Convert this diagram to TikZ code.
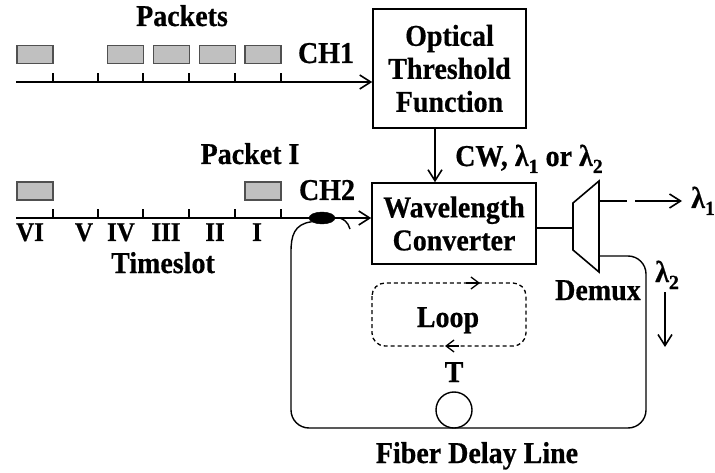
\documentclass[tikz,border=0pt]{standalone}
\usepackage{fontspec}
\setmainfont{Liberation Serif}[BoldFeatures={FakeBold=0.6}]
\usetikzlibrary{arrows.meta,shapes.geometric}
\definecolor{pktfill}{RGB}{192,192,192}
\definecolor{pktdraw}{RGB}{80,80,80}
\newcommand{\lsub}[1]{\raisebox{-7pt}{\fontsize{20}{20}\selectfont #1}}
\newcommand{\tall}[1]{\scalebox{1}[1.08]{#1}}
\tikzset{
  >={Straight Barb[length=11pt,width=14pt]},
  base/.style={line width=1.6pt},
  lbl/.style={font=\bfseries\fontsize{28}{33}\selectfont, inner sep=0pt, anchor=base},
  numlbl/.style={font=\bfseries\fontsize{25}{28}\selectfont, inner sep=0pt, anchor=base},
  blockbox/.style={draw, line width=1.6pt, align=center, inner sep=0pt,
    font=\bfseries\fontsize{28}{33}\selectfont},
  packet/.style={draw=pktdraw, fill=pktfill, line width=1.3pt, minimum width=36pt,
    minimum height=18pt, inner sep=0pt},
  tick/.style={line width=1.3pt},
  looparrow/.style={line width=1.3pt, -{Straight Barb[length=8pt,width=12pt]}}
}
\begin{document}
\begin{tikzpicture}[x=1pt,y=-1pt]
\useasboundingbox (0,0) rectangle (715,473);

% blocks
\node[blockbox, minimum width=153pt, minimum height=119pt] (otf) at (449.5,68.5) {\tall{Optical}\\\tall{Threshold}\\\tall{Function}};
\node[blockbox, minimum width=164pt, minimum height=81pt] (wc) at (454,223.5) {\tall{Wavelength}\\\tall{Converter}};

% demux trapezoid
\coordinate (dtl) at (573,203);
\coordinate (dtr) at (599,181);
\coordinate (dbr) at (599,272);
\coordinate (dbl) at (573,250);
\draw[base] (dtl) -- (dtr) -- (dbr) -- (dbl) -- cycle;
\coordinate (din) at (573,228);
\coordinate (dout1) at (599,201);
\coordinate (dout2) at (599,256);

% CH1 time line
\coordinate (l1s) at (16,82);
\draw[base,->] (l1s) -- (otf.west |- l1s);
\foreach \x in {53,98,143,189,235,281} \draw[tick] (\x,82) -- (\x,73);
\foreach \x/\n in {35/p1,125.5/p2,171.5/p3,217.5/p4,263/p5}
  \node[packet] (\n) at (\x,54.5) {};
\node[lbl] (packets) at (182,26) {\tall{Packets}};
\node[lbl] (ch1) at (326,63) {\tall{CH1}};

% CH2 time line
\coordinate (l2s) at (16,218);
\node[ellipse, fill=black, draw=black, minimum width=26pt, minimum height=12pt, inner sep=0pt] (cpl) at (322,218) {};
\draw[base,->] (l2s) -- (wc.west |- l2s);
\foreach \x in {53,98,143,189,235,281} \draw[tick] (\x,218) -- (\x,209);
\node[packet] (q1) at (35,191) {};
\node[packet] (q2) at (263,191) {};
\node[lbl] (pkti) at (250,164) {\tall{Packet I}};
\node[lbl] (ch2) at (327,200) {\tall{CH2}};
\foreach \x/\t in {30/VI,84/V,121/IV,166/III,215/II,257/I}
  \node[numlbl] at (\x,241) {\tall{\t}};
\node[lbl] (tslot) at (163,273) {\tall{Timeslot}};

% OTF -> WC
\coordinate (a1) at (435,128);
\draw[base,->] (a1) -- (a1 |- wc.north);
\node[lbl, anchor=base west] (cw) at (455,166) {\tall{CW, λ}\lsub{1} \tall{or λ}\lsub{2}};

% WC -> demux
\draw[base] (wc.east |- din) -- (din);

% demux output 1
\coordinate (g1) at (627,201);
\coordinate (g2) at (635,201);
\coordinate (tip1) at (682,201);
\draw[base] (dout1) -- (g1);
\draw[base,->] (g2) -- (tip1);
\node[lbl, anchor=base west] (lam1) at (691,208) {\tall{λ}\lsub{1}};

% fiber delay loop
\draw[line width=1.4pt] (cpl.200) .. controls (294,224) and (291,236) .. (291,252)
  [rounded corners=18pt] -- (291,428) -- (646,428) -- (646,256) -- (dout2);
\draw[line width=1.4pt] (cpl.east) .. controls (343,217) and (348,222) .. (350,229);
\node[draw, circle, line width=1.4pt, minimum size=36pt, inner sep=0pt, fill=white] (tdel) at (454,410) {};
\node[lbl] (tlbl) at (454,382) {\tall{T}};

% lambda2 down
\node[lbl, anchor=base west] (lam2) at (655,282) {\tall{λ}\lsub{2}};
\coordinate (d2a) at (665,292);
\coordinate (d2b) at (665,347);
\draw[base,->] (d2a) -- (d2b);
\node[lbl] (demux) at (598,300) {\tall{Demux}};

% dashed loop
\draw[line width=1.3pt, dash pattern=on 4pt off 3pt, rounded corners=13pt] (372,283) rectangle (526,346);
\draw[looparrow] (466,283) -- (480,283);
\draw[looparrow] (459,346) -- (445,346);
\node[lbl] (loop) at (448,327) {\tall{Loop}};

\node[lbl] (fdl) at (477,463) {\tall{Fiber Delay Line}};
\end{tikzpicture}
\end{document}
